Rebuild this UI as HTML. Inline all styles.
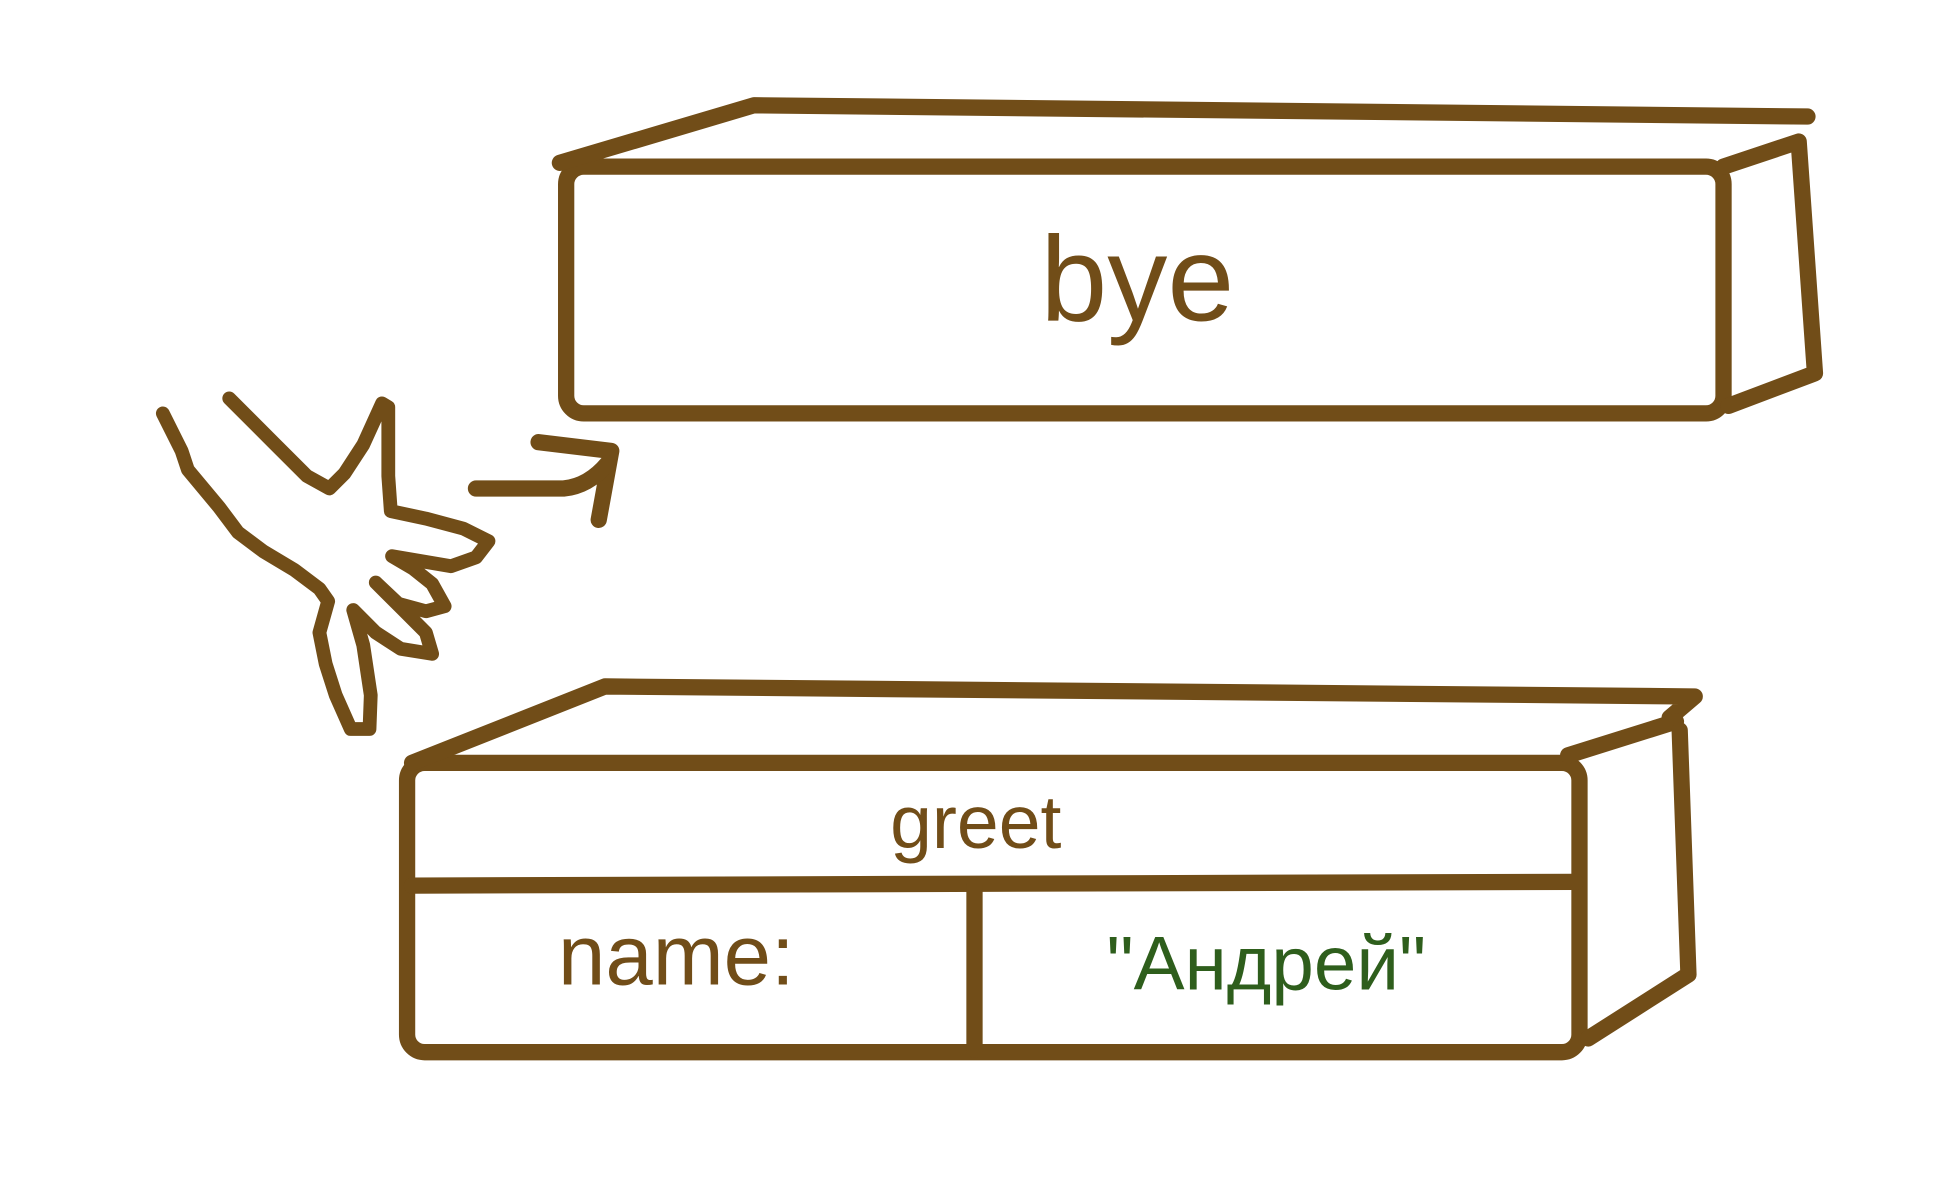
<!DOCTYPE html>
<html><head><meta charset="utf-8"><style>
html,body{margin:0;padding:0;background:#fff;}
svg{display:block}
text{font-family:"Liberation Sans","DejaVu Sans",sans-serif;}
</style></head><body>
<svg width="1954" height="1190" viewBox="0 0 1560 950" xmlns="http://www.w3.org/2000/svg">
<g fill="none" stroke="#714D18" stroke-width="13" stroke-linecap="round" stroke-linejoin="round">
<rect x="452" y="133" width="924" height="197" rx="14"/>
<polyline points="447,130 602,84 1443,93"/>
<polyline points="1376,133 1436,113 1449,298 1380,324"/>
<rect x="325" y="609" width="936" height="231" rx="14"/>
<polyline points="329,609 483,548 1353,556 1333,573"/>
<polyline points="1252,603 1338,576"/>
<polyline points="1341,583 1348,778 1268,829"/>
<line x1="329" y1="707" x2="1258" y2="704"/>
<line x1="778" y1="707" x2="778" y2="838"/>
<polyline points="430,353 488,360 478,415"/>
<path d="M380,390 L450,390 Q470,388 485,370"/>
<polyline stroke-width="11" points="130,330 145,360 150,375 175,405 190,425 210,440 235,455 255,470 262,480 255,505 260,530 268,555 280,582 295,582 296,555 290,515 282,487 300,505 320,518 345,522 340,505 320,485 300,465 318,482 340,488 355,484 345,466 330,454 313,444 360,452 380,445 390,432 370,422 340,414 312,408 310,380 310,325 305,322 290,355 275,378 263,390 245,380 220,355 183,318"/>
</g>
<g fill="#714D18" text-anchor="middle">
<text x="908" y="256" font-size="96">bye</text>
<text x="779" y="677" font-size="60">greet</text>
<text x="540" y="786" font-size="68">name:</text>
</g>
<text x="1011" y="790" font-size="61" text-anchor="middle" fill="#2E5E1C">"Андрей"</text>
</svg>
</body></html>
